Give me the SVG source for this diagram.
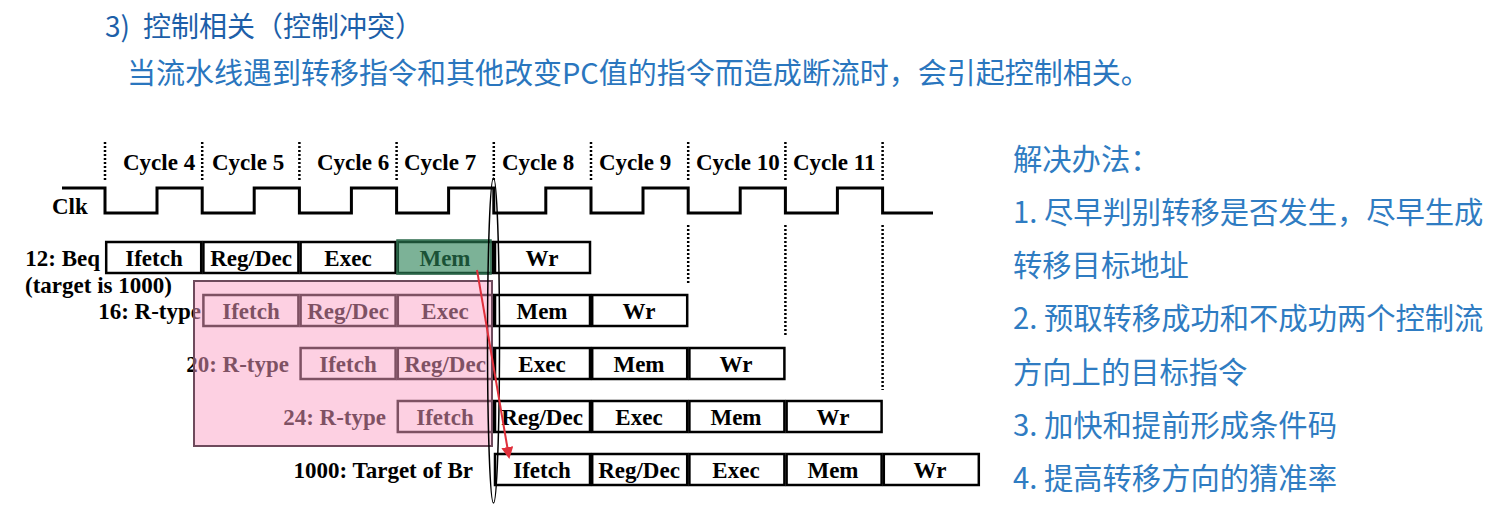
<svg xmlns="http://www.w3.org/2000/svg" width="1497" height="524" viewBox="0 0 1497 524">
<style>
.cjk{font-family:"Noto Sans CJK SC","Noto Sans",sans-serif;}
.t1{fill:#1d5fa9;font-size:28px;}
.t2{fill:#2a76be;font-size:29px;}
.t3{fill:#2f7cc2;font-size:29.3px;}
.ser{font-family:"Liberation Serif","Times New Roman",serif;font-weight:bold;font-size:23px;fill:#000;}
.box{fill:#fff;stroke:#000;stroke-width:2.5;}
.bt{text-anchor:middle;}
.dot{stroke:#000;stroke-width:2.5;stroke-dasharray:2 2;fill:none;}
.clk{fill:none;stroke:#000;stroke-width:3;}
</style>
<defs>
<marker id="ah" markerWidth="6" markerHeight="6" refX="5" refY="3" orient="auto" markerUnits="strokeWidth">
<path d="M0,0 L6,3 L0,6 z" fill="#e0303c"/>
</marker>
</defs>
<rect width="1497" height="524" fill="#fff"/>

<g id="title">
<text class="cjk t1" x="105" y="37">3)<tspan x="143">控制相关（控制冲突）</tspan></text>
<text class="cjk t2" x="127" y="84">当流水线遇到转移指令和其他改变PC值的指令而造成断流时，会引起控制相关。</text>
</g>

<g id="cycles">
<g class="dot">
<line x1="105" y1="142" x2="105" y2="180"/>
<line x1="202.2" y1="142" x2="202.2" y2="180"/>
<line x1="299.4" y1="142" x2="299.4" y2="180"/>
<line x1="396.6" y1="142" x2="396.6" y2="180"/>
<line x1="493.8" y1="142" x2="493.8" y2="180"/>
<line x1="591" y1="142" x2="591" y2="180"/>
<line x1="688.2" y1="142" x2="688.2" y2="180"/>
<line x1="785.4" y1="142" x2="785.4" y2="180"/>
<line x1="882.6" y1="142" x2="882.6" y2="180"/>
<line x1="688.2" y1="225" x2="688.2" y2="285"/>
<line x1="785.4" y1="225" x2="785.4" y2="337"/>
<line x1="882.6" y1="225" x2="882.6" y2="390"/>
</g>
<g class="ser">
<text x="123" y="170">Cycle 4</text>
<text x="212" y="170">Cycle 5</text>
<text x="317" y="170">Cycle 6</text>
<text x="404" y="170">Cycle 7</text>
<text x="502" y="170">Cycle 8</text>
<text x="599" y="170">Cycle 9</text>
<text x="696" y="170">Cycle 10</text>
<text x="793" y="170">Cycle 11</text>
</g>
</g>

<g id="clock">
<text class="ser" x="52" y="214">Clk</text>
<polyline class="clk" points="62,188 105,188 105,213 157,213 157,188 202.2,188 202.2,213 254.2,213 254.2,188 299.4,188 299.4,213 351.4,213 351.4,188 396.6,188 396.6,213 448.6,213 448.6,188 493.8,188 493.8,213 545.8,213 545.8,188 591,188 591,213 643,213 643,188 688.2,188 688.2,213 740.2,213 740.2,188 785.4,188 785.4,213 837.4,213 837.4,188 882.6,188 882.6,213 933,213"/>
</g>

<g id="row-beq" class="ser">
<text x="100" y="266" text-anchor="end">12: Beq</text>
<text x="25" y="293">(target is 1000)</text>
<rect class="box" x="106.2" y="242" width="95" height="31"/>
<rect class="box" x="203.4" y="242" width="95" height="31"/>
<rect class="box" x="300.6" y="242" width="95" height="31"/>
<rect class="box" x="397.8" y="242" width="95" height="31"/>
<rect class="box" x="495" y="242" width="95" height="31"/>
<text class="bt" x="154" y="266">Ifetch</text>
<text class="bt" x="251" y="266">Reg/Dec</text>
<text class="bt" x="348" y="266">Exec</text>
<text class="bt" x="445" y="266">Mem</text>
<text class="bt" x="542" y="266">Wr</text>
</g>

<g id="row-16" class="ser">
<text x="201" y="319" text-anchor="end">16: R-type</text>
<rect class="box" x="203.4" y="295" width="95" height="31"/>
<rect class="box" x="300.6" y="295" width="95" height="31"/>
<rect class="box" x="397.8" y="295" width="95" height="31"/>
<rect class="box" x="495" y="295" width="95" height="31"/>
<rect class="box" x="592.2" y="295" width="95" height="31"/>
<text class="bt" x="251" y="319">Ifetch</text>
<text class="bt" x="348" y="319">Reg/Dec</text>
<text class="bt" x="445" y="319">Exec</text>
<text class="bt" x="542" y="319">Mem</text>
<text class="bt" x="639" y="319">Wr</text>
</g>

<g id="row-20" class="ser">
<text x="289" y="372" text-anchor="end">20: R-type</text>
<rect class="box" x="300.6" y="348" width="95" height="31"/>
<rect class="box" x="397.8" y="348" width="95" height="31"/>
<rect class="box" x="495" y="348" width="95" height="31"/>
<rect class="box" x="592.2" y="348" width="95" height="31"/>
<rect class="box" x="689.4" y="348" width="95" height="31"/>
<text class="bt" x="348" y="372">Ifetch</text>
<text class="bt" x="445" y="372">Reg/Dec</text>
<text class="bt" x="542" y="372">Exec</text>
<text class="bt" x="639" y="372">Mem</text>
<text class="bt" x="736" y="372">Wr</text>
</g>

<g id="row-24" class="ser">
<text x="386" y="425" text-anchor="end">24: R-type</text>
<rect class="box" x="397.8" y="401" width="95" height="31"/>
<rect class="box" x="495" y="401" width="95" height="31"/>
<rect class="box" x="592.2" y="401" width="95" height="31"/>
<rect class="box" x="689.4" y="401" width="95" height="31"/>
<rect class="box" x="786.6" y="401" width="95" height="31"/>
<text class="bt" x="445" y="425">Ifetch</text>
<text class="bt" x="542" y="425">Reg/Dec</text>
<text class="bt" x="639" y="425">Exec</text>
<text class="bt" x="736" y="425">Mem</text>
<text class="bt" x="833" y="425">Wr</text>
</g>

<g id="row-1000" class="ser">
<text x="473" y="478" text-anchor="end">1000: Target of Br</text>
<rect class="box" x="495" y="454" width="95" height="31"/>
<rect class="box" x="592.2" y="454" width="95" height="31"/>
<rect class="box" x="689.4" y="454" width="95" height="31"/>
<rect class="box" x="786.6" y="454" width="95" height="31"/>
<rect class="box" x="883.8" y="454" width="95" height="31"/>
<text class="bt" x="542" y="478">Ifetch</text>
<text class="bt" x="639" y="478">Reg/Dec</text>
<text class="bt" x="736" y="478">Exec</text>
<text class="bt" x="833" y="478">Mem</text>
<text class="bt" x="930" y="478">Wr</text>
</g>

<g id="highlights">
<rect x="397" y="240" width="94" height="34" fill="rgb(43,130,87)" fill-opacity="0.62" stroke="#2d6b4c" stroke-width="1.5"/>
<rect x="194" y="281" width="298" height="165" fill="rgb(251,161,197)" fill-opacity="0.5" stroke="#6e4a5c" stroke-width="2"/>
</g>

<g id="connectors">
<ellipse cx="493.5" cy="340.5" rx="6" ry="162.5" fill="none" stroke="#000" stroke-width="1.5"/>
<line x1="477" y1="270" x2="509" y2="457" stroke="#e0303c" stroke-width="2" marker-end="url(#ah)"/>
</g>

<g id="solutions" class="cjk t3">
<text x="1013" y="170">解决办法：</text>
<text x="1013" y="223">1. 尽早判别转移是否发生，尽早生成</text>
<text x="1013" y="276">转移目标地址</text>
<text x="1013" y="329">2. 预取转移成功和不成功两个控制流</text>
<text x="1013" y="383">方向上的目标指令</text>
<text x="1013" y="436">3. 加快和提前形成条件码</text>
<text x="1013" y="489">4. 提高转移方向的猜准率</text>
</g>
</svg>
